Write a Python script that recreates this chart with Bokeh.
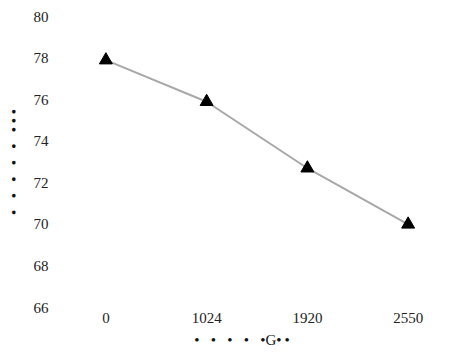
from bokeh.plotting import figure
from bokeh.models import FactorRange, Range1d, FixedTicker
from bokeh.embed import file_html
from bokeh.resources import INLINE

categories = ["0", "1024", "1920", "2550"]
values = [77.9, 75.9, 72.7, 70.0]
y_ticks = [66, 68, 70, 72, 74, 76, 78, 80]
x_label = "\u2022\u2002\u00a0\u2022\u2002\u00a0\u2022\u2002\u00a0\u2022\u2002\u00a0\u2022G\u2022\u2009\u2022\u2003\u2003"
y_label = "\u2022\u2002\u00a0\u2022\u2002\u00a0\u2022\u2002\u00a0\u2022\u2002\u00a0\u2022\u2002\u00a0\u2022\u00a0\u2022\u00a0\u2022"

FONT = "Liberation Serif"

p = figure(width=462, height=352, x_range=FactorRange(*categories, range_padding=0),
           y_range=Range1d(66, 80), output_backend="svg", toolbar_location=None,
           min_border_left=55, min_border_right=4, min_border_top=16, min_border_bottom=45)

p.line(categories, values, line_color="#a8a8a8", line_width=2)
p.scatter(categories, values, marker="triangle", size=13, fill_color="black", line_color="black")

p.outline_line_color = None
p.xgrid.grid_line_color = None
p.ygrid.grid_line_color = None
p.background_fill_color = "white"
p.border_fill_color = "white"

p.yaxis.ticker = FixedTicker(ticks=y_ticks)
for ax in (p.xaxis[0], p.yaxis[0]):
    ax.axis_line_color = None
    ax.major_tick_line_color = None
    ax.minor_tick_line_color = None
    ax.major_tick_out = 0
    ax.major_tick_in = 0
    ax.major_label_text_font = FONT
    ax.major_label_text_font_size = "15px"
    ax.major_label_text_color = "#222222"
    ax.axis_label_text_font = FONT
    ax.axis_label_text_font_size = "15px"
    ax.axis_label_text_font_style = "normal"
    ax.axis_label_text_color = "#111111"

p.xaxis.axis_label = x_label
p.yaxis.axis_label = y_label
p.yaxis.major_label_standoff = 7
p.xaxis.major_label_standoff = 5
p.yaxis.axis_label_standoff = 9
p.xaxis.axis_label_standoff = 6

open("out.html", "w").write(file_html(p, INLINE))
